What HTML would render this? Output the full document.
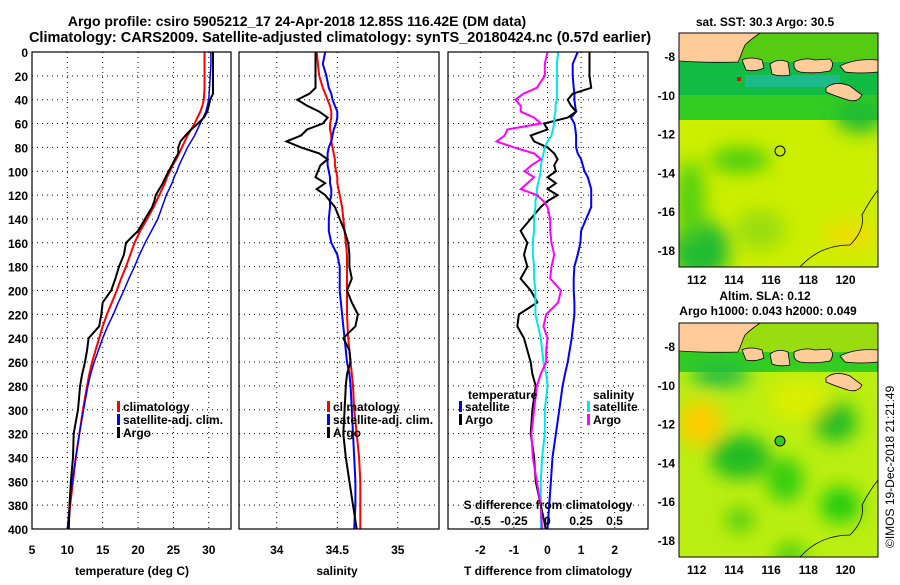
<!DOCTYPE html>
<html><head><meta charset="utf-8"><style>
body{margin:0;background:#fff;}
svg text{font-family:"Liberation Sans",sans-serif;font-weight:bold;}
</style></head><body>
<svg id="s" width="900" height="580" xmlns="http://www.w3.org/2000/svg">
<defs>
<filter id="bl" x="-50%" y="-50%" width="200%" height="200%"><feGaussianBlur stdDeviation="9"/></filter>
<clipPath id="c1"><rect x="679" y="33" width="199" height="234"/></clipPath>
<clipPath id="c2"><rect x="679" y="323" width="199" height="234"/></clipPath>
<g id="land">
<path d="M679 33 H760 Q750 40 745 45 L742 52 Q740 58 738 62 Q710 63 679 61 Z"/>
<path d="M742 60 Q750 56 762 60 L764 68 Q755 72 746 70 Z"/>
<path d="M770 64 Q778 58 788 62 L790 75 Q780 77 772 74 Z"/>
<path d="M794 62 Q805 57 815 60 L830 59 Q835 64 830 71 Q815 74 800 72 Q794 70 794 66 Z"/>
<path d="M840 66 Q855 58 878 60 V72 Q860 74 845 72 Z"/>
<path d="M826 88 Q835 80 850 86 L862 95 Q858 103 848 100 Q835 96 826 92 Z"/>
</g>
</defs>
<text x="297" y="26" font-size="14" text-anchor="middle">Argo profile: csiro 5905212_17 24-Apr-2018 12.85S 116.42E (DM data)</text>
<text x="340" y="42" font-size="14.5" text-anchor="middle">Climatology: CARS2009. Satellite-adjusted climatology: synTS_20180424.nc (0.57d earlier)</text>
<g id="g"></g>
<g>
<g clip-path="url(#c1)">
<rect x="679" y="33" width="199" height="234" fill="#ccee00"/>
<rect x="679" y="33" width="199" height="30" fill="#55cc11"/>
<rect x="679" y="62" width="199" height="38" fill="#11bb44"/>
<rect x="679" y="95" width="199" height="25" fill="#33cc22"/>
<g filter="url(#bl)">
<ellipse cx="700" cy="250" rx="30" ry="30" fill="#22bb33"/>
<ellipse cx="740" cy="160" rx="30" ry="12" fill="#44cc11"/>
<ellipse cx="690" cy="200" rx="15" ry="40" fill="#55d011"/>
<ellipse cx="760" cy="230" rx="25" ry="20" fill="#99dd11"/>
<ellipse cx="850" cy="235" rx="25" ry="15" fill="#eedd00"/>
<ellipse cx="860" cy="115" rx="25" ry="18" fill="#22bb33"/>
</g>
<rect x="745" y="75" width="95" height="12" fill="#22bbaa" opacity="0.7"/>
<rect x="737" y="77" width="4" height="4" fill="#bb2200"/>
<use href="#land" fill="#ffcc99" stroke="#000" stroke-width="0.8"/>
<path d="M800 267 Q820 245 850 245 Q865 230 862 215 Q870 200 878 190" fill="none" stroke="#000" stroke-width="0.8"/>
</g>
<rect x="679" y="33" width="199" height="234" fill="none" stroke="#000"/>
<circle cx="780" cy="151" r="5" fill="none" stroke="#000"/>
<text x="765" y="26" font-size="12" text-anchor="middle">sat. SST: 30.3 Argo: 30.5</text>
</g>
<g>
<g clip-path="url(#c2)">
<rect x="679" y="323" width="199" height="234" fill="#bbee11"/>
<rect x="679" y="323" width="199" height="30" fill="#99dd11"/>
<rect x="679" y="352" width="199" height="20" fill="#33cc22"/>
<g filter="url(#bl)">
<ellipse cx="700" cy="423" rx="22" ry="22" fill="#ffcc00"/>
<ellipse cx="740" cy="457" rx="30" ry="22" fill="#22bb22"/>
<ellipse cx="785" cy="480" rx="18" ry="22" fill="#33cc11"/>
<ellipse cx="835" cy="422" rx="22" ry="20" fill="#22bb22"/>
<ellipse cx="840" cy="505" rx="20" ry="18" fill="#22cc11"/>
<ellipse cx="800" cy="400" rx="30" ry="20" fill="#ddee00"/>
<ellipse cx="740" cy="520" rx="15" ry="12" fill="#55cc11"/>
<ellipse cx="790" cy="555" rx="15" ry="12" fill="#44cc11"/>
<ellipse cx="720" cy="375" rx="30" ry="12" fill="#22bb44"/>
</g>
<use href="#land" y="290" fill="#ffcc99" stroke="#000" stroke-width="0.8"/>
<path d="M800 557 Q820 535 850 535 Q865 520 862 505 Q870 490 878 480" fill="none" stroke="#000" stroke-width="0.8"/>
</g>
<rect x="679" y="323" width="199" height="234" fill="none" stroke="#000"/>
<circle cx="780" cy="441" r="5" fill="#33cc22" stroke="#000"/>
<text x="765" y="300" font-size="12" text-anchor="middle">Altim. SLA: 0.12</text>
<text x="768" y="315" font-size="12" text-anchor="middle">Argo h1000: 0.043 h2000: 0.049</text>
</g>
<text transform="translate(894,548) rotate(-90)" font-size="12" style="font-weight:normal">©IMOS 19-Dec-2018 21:21:49</text>
</svg>
<script>
const depths=[0,10,20,30,35,40,45,50,55,60,65,70,75,80,85,90,95,100,105,110,115,120,125,130,140,150,160,170,180,190,200,210,220,230,240,250,260,270,280,300,320,340,360,380,400];
const climT=[29.4,29.4,29.4,29.4,29.35,29.3,29.1,28.8,28.4,28.0,27.5,27.0,26.6,26.2,25.8,25.4,24.9,24.5,24.1,23.8,23.4,23.0,22.6,22.2,21.3,20.3,19.5,18.9,18.3,17.6,17.0,16.3,15.6,15.0,14.5,14.0,13.5,13.1,12.8,12.2,11.7,11.2,10.8,10.4,10.1];
const satT=[30.3,30.3,30.2,30.1,30.05,30.0,29.8,29.6,29.2,28.8,28.4,28.0,27.5,27.0,26.6,26.2,25.8,25.5,25.1,24.8,24.4,24.0,23.7,23.4,22.8,21.9,21.0,20.2,19.5,18.7,18.0,17.2,16.5,15.7,15.0,14.4,13.8,13.3,12.9,12.3,11.7,11.2,10.7,10.3,10.0];
const argoT=[30.6,30.6,30.6,30.6,30.6,30.2,30.0,29.8,29.3,28.5,27.5,26.7,26.0,25.7,25.7,25.2,24.8,24.3,23.9,23.5,23.0,22.5,22.3,22.0,21.0,20.0,18.3,18.0,17.3,16.8,16.2,15.0,14.8,14.5,13.0,12.8,12.5,12.1,11.8,11.5,10.9,10.8,10.5,10.3,10.2];
const climS=[34.33,34.34,34.35,34.38,34.40,34.42,34.44,34.45,34.45,34.44,34.44,34.45,34.45,34.46,34.47,34.48,34.48,34.49,34.50,34.50,34.51,34.52,34.53,34.54,34.55,34.56,34.57,34.58,34.58,34.58,34.58,34.58,34.58,34.585,34.59,34.60,34.61,34.62,34.63,34.64,34.66,34.68,34.69,34.69,34.69];
const satS=[34.40,34.38,34.41,34.43,34.45,34.46,34.48,34.50,34.50,34.49,34.47,34.46,34.45,34.43,34.42,34.42,34.42,34.43,34.44,34.44,34.45,34.45,34.44,34.44,34.43,34.43,34.45,34.50,34.52,34.52,34.52,34.53,34.54,34.55,34.56,34.57,34.58,34.60,34.61,34.62,34.63,34.64,34.65,34.65,34.64];
const argoS=[34.32,34.32,34.32,34.32,34.27,34.17,34.25,34.35,34.42,34.38,34.25,34.2,34.08,34.2,34.35,34.42,34.36,34.34,34.32,34.40,34.33,34.40,34.44,34.48,34.52,34.56,34.59,34.60,34.60,34.62,34.58,34.62,34.67,34.65,34.55,34.60,34.61,34.58,34.57,34.56,34.55,34.57,34.60,34.63,34.66];
const satTd=[0.9,0.75,0.75,0.78,0.8,0.8,0.82,0.85,0.7,0.8,0.83,0.85,0.85,0.85,0.9,1.0,1.05,1.1,1.2,1.25,1.3,1.3,1.3,1.3,1.15,1.0,0.98,0.9,0.8,0.78,0.78,0.8,0.8,0.76,0.72,0.66,0.6,0.52,0.45,0.35,0.25,0.15,0.1,0.05,0.0];
const argoTd=[1.25,1.25,1.25,1.3,0.75,0.6,0.7,0.85,0.6,-0.1,0.0,-0.5,-0.4,0.0,0.2,0.3,0.2,0.25,0.0,0.25,0.0,0.3,0.0,-0.2,-0.5,-0.8,-0.6,-0.7,-0.6,-0.8,-0.5,-0.3,-0.85,-0.9,-0.7,-0.6,-0.5,-0.45,-0.35,-0.45,-0.5,-0.4,-0.35,-0.2,-0.05];
const satSd=[0.08,0.07,0.07,0.07,0.07,0.07,0.06,0.06,0.05,0.05,0.04,0.03,0.0,-0.02,-0.03,-0.04,-0.05,-0.05,-0.06,-0.07,-0.08,-0.08,-0.09,-0.09,-0.1,-0.1,-0.11,-0.11,-0.1,-0.1,-0.09,-0.09,-0.09,-0.07,-0.05,-0.04,-0.03,-0.01,0.0,-0.02,-0.02,-0.04,-0.05,-0.05,-0.05];
const argoSd=[0.0,-0.02,-0.02,-0.08,-0.18,-0.24,-0.2,-0.2,-0.1,-0.05,-0.3,-0.32,-0.38,-0.25,-0.1,-0.05,-0.12,-0.17,-0.1,-0.15,-0.2,-0.08,-0.03,0.0,0.02,0.02,0.03,0.05,0.03,0.02,0.1,0.08,-0.01,-0.03,0.0,-0.01,-0.01,-0.05,-0.08,-0.1,-0.12,-0.11,-0.08,-0.05,-0.04];
const depthTicks=[0,20,40,60,80,100,120,140,160,180,200,220,240,260,280,300,320,340,360,380,400];
const tTicks=[5,10,15,20,25,30];
const sTicks=[34,34.5,35];
const tdTicks=[-2,-1,0,1,2];
const sdTicks=[-0.5,-0.25,0,0.25,0.5];
const sdLabels=["-0.5","-0.25","0","0.25","0.5"];
const latTicks=[-8,-10,-12,-14,-16,-18];
const lonTicks=[112,114,116,118,120];

const NS="http://www.w3.org/2000/svg";
const G=document.getElementById('g');
function el(tag,attrs,parent){const e=document.createElementNS(NS,tag);for(const k in attrs)e.setAttribute(k,attrs[k]);(parent||G).appendChild(e);return e;}
const Y0=52,Y1=529;
const yD=d=>Y0+(Y1-Y0)*d/400;
const P1={x0:32,x1:231,xs:v=>32+(v-5)*7.07};
const P2={x0:239,x1:439,xs:v=>337.3+(v-34.5)*121};
const P3={x0:448,x1:648,xs:v=>547.5+v*33.6,xs2:v=>547.5+v*134};
function grid(P,ticks,f){
  ticks.forEach(t=>{const l=el('line',{x1:f(t),x2:f(t),y1:Y0,y2:Y1,stroke:'#000','stroke-width':1,'stroke-dasharray':'1,4'});
  
  });
  depthTicks.forEach(d=>{const l=el('line',{x1:P.x0,x2:P.x1,y1:yD(d),y2:yD(d),stroke:'#000','stroke-width':1,'stroke-dasharray':'1,4'});
  
  });
}
function line(P,vals,f,col,w,name){
  const pts=vals.map((v,i)=>f(v).toFixed(1)+','+yD(depths[i]).toFixed(1)).join(' ');
  const l=el('polyline',{points:pts,fill:'none',stroke:col,'stroke-width':w});
  
  
}
function box(P,name){const r=el('rect',{x:P.x0,y:Y0,width:P.x1-P.x0,height:Y1-Y0,fill:'none',stroke:'#000','stroke-width':1.2});

}
function txt(x,y,s,size,anchor,name){const t=el('text',{x:x,y:y,'font-size':size,'text-anchor':anchor||'start'});t.textContent=s;

return t;}
function legend(x,y,col,label){const r=el('rect',{x:x,y:y-10,width:3,height:11,fill:col});


txt(x+6,y,label,12,'start','legend-entry');}

grid(P1,tTicks,P1.xs);
line(P1,climT,P1.xs,'#f00',2,'climatology-temperature-line');
line(P1,satT,P1.xs,'#00f',1.5,'satellite-temperature-line');
line(P1,argoT,P1.xs,'#000',2,'argo-temperature-line');
box(P1,'temperature-plot-frame');
depthTicks.forEach(d=>txt(28,yD(d)+5,String(d),12,'end','depth-tick-label'));
tTicks.forEach(t=>txt(P1.xs(t),554,String(t),12,'middle','temperature-tick-label'));
txt(132,575,'temperature (deg C)',12,'middle','temperature-axis-title');
legend(117,411,'#f00','climatology');legend(117,424,'#00f','satellite-adj. clim.');legend(117,437,'#000','Argo');
grid(P2,sTicks,P2.xs);
line(P2,climS,P2.xs,'#f00',2,'climatology-salinity-line');
line(P2,satS,P2.xs,'#00f',2,'satellite-salinity-line');
line(P2,argoS,P2.xs,'#000',2,'argo-salinity-line');
box(P2,'salinity-plot-frame');
sTicks.forEach(t=>txt(P2.xs(t),554,String(t),12,'middle','salinity-tick-label'));
txt(337,575,'salinity',12,'middle','salinity-axis-title');
legend(327,411,'#f00','climatology');legend(327,424,'#00f','satellite-adj. clim.');legend(327,437,'#000','Argo');
grid(P3,tdTicks,P3.xs);
line(P3,satTd,P3.xs,'#00f',2,'satellite-temperature-diff-line');
line(P3,argoTd,P3.xs,'#000',2,'argo-temperature-diff-line');
line(P3,satSd,P3.xs2,'#00e5ee',2,'satellite-salinity-diff-line');
line(P3,argoSd,P3.xs2,'#f0f',2,'argo-salinity-diff-line');
box(P3,'difference-plot-frame');
tdTicks.forEach(t=>txt(P3.xs(t),554,String(t),12,'middle','t-difference-tick-label'));
txt(548,575,'T difference from climatology',12,'middle','t-difference-axis-title');
sdTicks.forEach((t,i)=>txt(P3.xs2(t),525,sdLabels[i],12,'middle','s-difference-tick-label'));
txt(548,509,'S difference from climatology',12,'middle','s-difference-axis-title');
txt(468,399,'temperature',12,'start','legend-header-temperature');
txt(593,399,'salinity',12,'start','legend-header-salinity');
legend(459,411,'#00f','satellite');legend(459,424,'#000','Argo');
legend(587,411,'#00e5ee','satellite');legend(587,424,'#f0f','Argo');
function mapAxes(y0){
  const yL=lat=>56+(-8-lat)*19.4+(y0-33);
  const xL=lon=>696.7+(lon-112)*18.6;
  latTicks.forEach(l=>{txt(675,yL(l)+5,String(l),12,'end','latitude-tick-label');
    const a=el('line',{x1:679,x2:683,y1:yL(l),y2:yL(l),stroke:'#000'});
    
    
    const b=el('line',{x1:874,x2:878,y1:yL(l),y2:yL(l),stroke:'#000'});
    
    });
  lonTicks.forEach(l=>{txt(xL(l),y0+234+17,String(l),12,'middle','longitude-tick-label');
    const a=el('line',{x1:xL(l),x2:xL(l),y1:y0+230,y2:y0+234,stroke:'#000'});
    
    });
}
mapAxes(33);mapAxes(323);
</script>
</body></html>
